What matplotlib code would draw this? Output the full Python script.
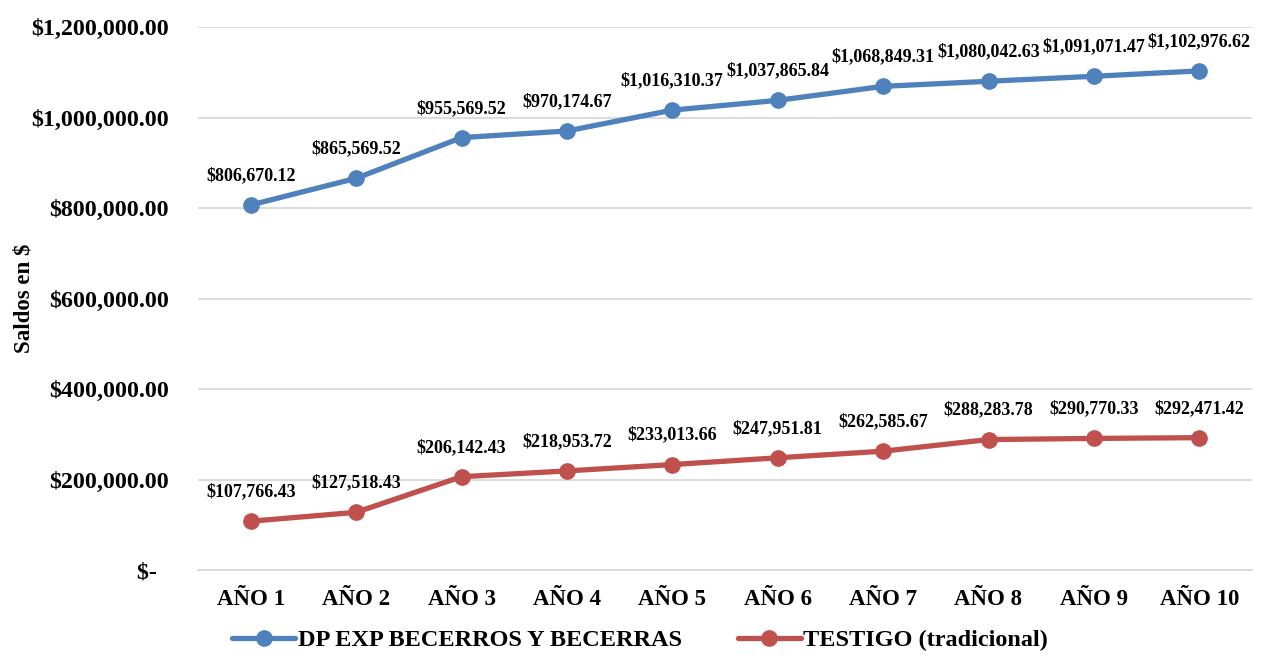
import matplotlib
matplotlib.use("Agg")
import matplotlib.pyplot as plt
from matplotlib.ticker import FuncFormatter

categories = ["AÑO 1", "AÑO 2", "AÑO 3", "AÑO 4", "AÑO 5",
              "AÑO 6", "AÑO 7", "AÑO 8", "AÑO 9", "AÑO 10"]
dp_exp = [806670.12, 865569.52, 955569.52, 970174.67, 1016310.37,
          1037865.84, 1068849.31, 1080042.63, 1091071.47, 1102976.62]
testigo = [107766.43, 127518.43, 206142.43, 218953.72, 233013.66,
           247951.81, 262585.67, 288283.78, 290770.33, 292471.42]
series_names = ["DP EXP BECERROS Y BECERRAS", "TESTIGO (tradicional)"]
y_label = "Saldos en $"

plt.rcParams["font.family"] = ["Liberation Serif", "DejaVu Serif"]
plt.rcParams["font.weight"] = "bold"

fig = plt.figure(figsize=(12.73, 6.6), dpi=100)
ax = fig.add_axes([198 / 1273, 1 - 570 / 660, (1252 - 198) / 1273, (570 - 27) / 660])

x = list(range(len(categories)))
colors = ["#4F81BD", "#C0504D"]
for vals, name, c in zip([dp_exp, testigo], series_names, colors):
    ax.plot(x, vals, color=c, lw=3.8, marker="o", ms=11, label=name,
            solid_capstyle="round", zorder=3)
    for xi, v in zip(x, vals):
        ax.annotate(f"${v:,.2f}", (xi, v), xytext=(0, 15), textcoords="offset points",
                    ha="center", va="bottom", fontsize=13, fontweight="bold")

ax.set_xlim(-0.5, len(categories) - 0.5)
ax.set_ylim(0, 1200000)
ax.set_yticks([0, 200000, 400000, 600000, 800000, 1000000, 1200000])


def fmt(v, pos):
    if v == 0:
        return "$-  "
    return f"${v:,.2f}"


ax.yaxis.set_major_formatter(FuncFormatter(fmt))
ax.set_xticks(x)
ax.set_xticklabels(categories)
ax.tick_params(axis="both", length=0)
ax.tick_params(axis="y", pad=21, labelsize=17.3)
ax.tick_params(axis="x", pad=14, labelsize=16.5)
for lbl in ax.get_xticklabels() + ax.get_yticklabels():
    lbl.set_fontweight("bold")

ax.grid(axis="y", color="#D9D9D9", lw=1.3, zorder=0)
for s in ["top", "right", "left"]:
    ax.spines[s].set_visible(False)
ax.spines["bottom"].set_color("#D9D9D9")
ax.spines["bottom"].set_linewidth(1.3)

ax.set_ylabel(y_label, fontsize=16.5, fontweight="bold")
ax.yaxis.set_label_coords(-0.155, 0.5)

leg = fig.legend(loc="center", bbox_to_anchor=(0.503, 1 - 640 / 660), ncol=2,
                 frameon=False, fontsize=17.5, handlelength=2.6, columnspacing=2.3,
                 handletextpad=0.1)
for t in leg.get_texts():
    t.set_fontweight("bold")

fig.savefig("out.png", dpi=100)
